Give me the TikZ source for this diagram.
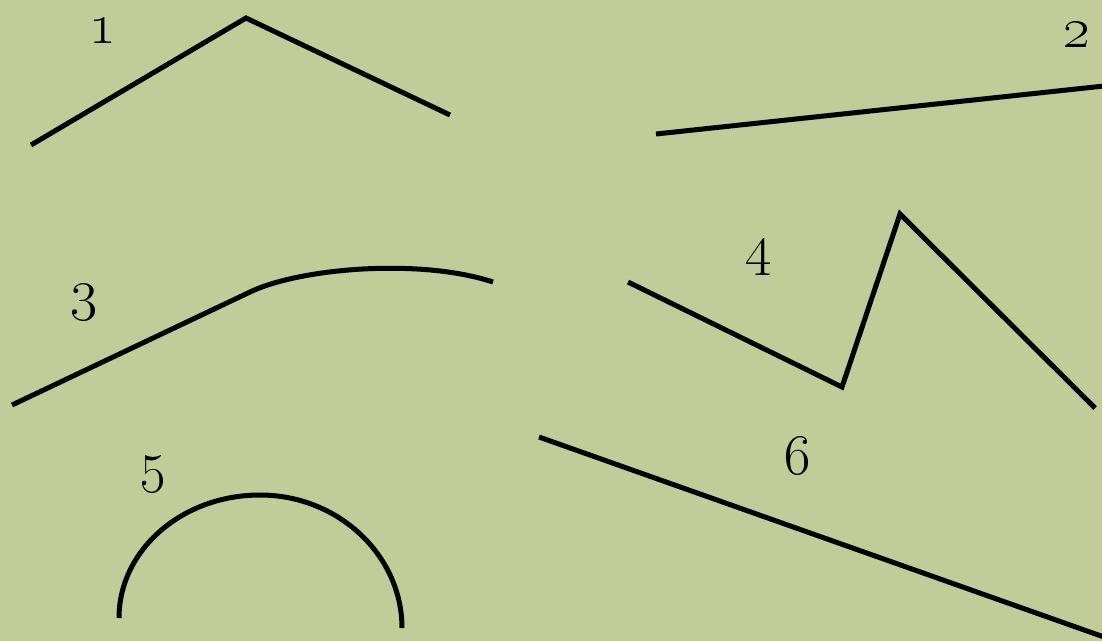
\RequirePackage{fix-cm}
\documentclass[tikz,border=0pt]{standalone}
\usepackage{tikz}
\usetikzlibrary{positioning}

\definecolor{paper}{RGB}{193,204,152}

\begin{document}
\begin{tikzpicture}[
        x = 1pt, y = -1pt, % one unit per pixel, y down
        stroke/.style = {line width = 5pt, black}, % line style
        num/.style = {inner sep = 0pt, font = \fontsize{58}{60}\selectfont}
        ]

  \useasboundingbox (0,0) rectangle (1102,641);
  \fill[paper] (0,0) rectangle (1102,641);

  % labels
  \node[num] (n1) at (103,31)  {\oldstylenums{1}};
  \node[num] (n2) at (1077,35) {\oldstylenums{2}};
  \node[num] (n3) at (84,303)  {\oldstylenums{3}};
  \node[num] (n4) at (758,258) {\oldstylenums{4}};
  \node[num] (n5) at (153,475) {\oldstylenums{5}};
  \node[num] (n6) at (797,456) {\oldstylenums{6}};

  % 1: roof
  \draw[stroke] (31,145) -- (246,18) -- (450,115);

  % 2: straight line
  \draw[stroke] (656,134) -- (1104,86);

  % 3: line running into a curve
  \draw[stroke] (12,405) -- (250,292)
        .. controls (300,268) and (420,258) .. (493,282);

  % 4: zigzag
  \draw[stroke] (628,282) -- (842,387) -- (900,214) -- (1095,408);

  % 5: arch
  \draw[stroke] (119,618) .. controls (119,550) and (182,495) .. (260,495)
        .. controls (338,495) and (402,555) .. (402,628);

  % 6: long slope
  \draw[stroke] (539,437) -- (1104,637);

\end{tikzpicture}
\end{document}
